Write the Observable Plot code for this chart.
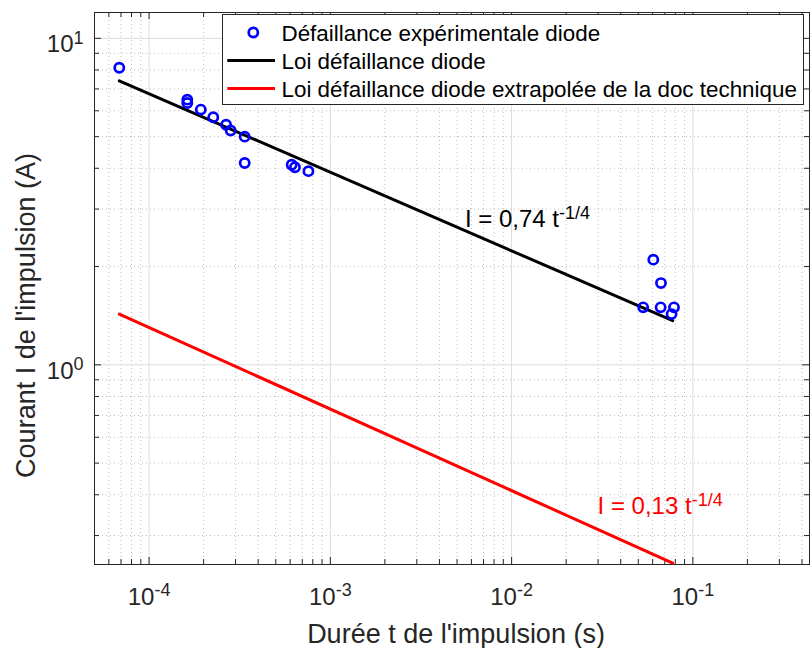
<!DOCTYPE html>
<html>
<head>
<meta charset="utf-8">
<script src="https://cdn.jsdelivr.net/npm/d3@7"></script>
<script src="https://cdn.jsdelivr.net/npm/@observablehq/plot@0.6"></script>
<style>
  html, body { margin: 0; padding: 0; background: white; }
  #chart svg { display: block; }
</style>
</head>
<body>
<div id="chart"></div>
<script>
// ---- Data ----
const expT = [6.85e-5, 1.625e-4, 1.625e-4, 1.93e-4, 2.26e-4, 2.66e-4, 2.82e-4, 3.37e-4, 3.37e-4, 6.12e-4, 6.38e-4, 7.57e-4, 0.0532, 0.0605, 0.0664, 0.0667, 0.0763, 0.0787];
const expI = [8.13, 6.49, 6.34, 6.05, 5.73, 5.44, 5.22, 5.00, 4.15, 4.10, 4.03, 3.92, 1.50, 2.10, 1.50, 1.78, 1.43, 1.50];

const lawT = [6.85e-5, 0.0774];
const lawI = [7.41, 1.366];

const docT = [6.85e-5, 0.0774];
const docI = [1.43, 0.247];

const annotT = [5.53e-3, 0.0298];
const annotI = [2.64, 0.350];
const annotText = ["I = 0,74 t^-1/4", "I = 0,13 t^-1/4"];
const annotColor = ["#000000", "#ff0000"];

const legendLabels = ["Défaillance expérimentale diode", "Loi défaillance diode", "Loi défaillance diode extrapolée de la doc technique"];
const legendKinds = ["dot", "line", "line"];
const legendColors = ["#0000ff", "#000000", "#ff0000"];

const xLabel = "Durée t de l'impulsion (s)";
const yLabel = "Courant I de l'impulsion (A)";

const xDomain = [5e-5, 0.44];
const yDomain = [0.2446, 12];
const xTicks = [1e-4, 1e-3, 1e-2, 1e-1];
const xTickLabels = ["10^-4", "10^-3", "10^-2", "10^-1"];
const xMinor = [6e-5, 7e-5, 8e-5, 9e-5, 2e-4, 3e-4, 4e-4, 5e-4, 6e-4, 7e-4, 8e-4, 9e-4, 2e-3, 3e-3, 4e-3, 5e-3, 6e-3, 7e-3, 8e-3, 9e-3, 2e-2, 3e-2, 4e-2, 5e-2, 6e-2, 7e-2, 8e-2, 9e-2, 0.2, 0.3, 0.4];
const yTicks = [1, 10];
const yTickLabels = ["10^0", "10^1"];
const yMinor = [0.3, 0.4, 0.5, 0.6, 0.7, 0.8, 0.9, 2, 3, 4, 5, 6, 7, 8, 9];

// ---- Layout ----
const W = 811, H = 648;
const mL = 94, mR = 2, mT = 12, mB = 84;
const FW = W - mL - mR, FH = H - mT - mB;
const axisColor = "#262626";
const majorLen = 7, minorLen = 5;
const font = "'Liberation Sans', Arial, Helvetica, sans-serif";

const exp = expT.map((t, i) => ({t, I: expI[i]}));
const law = lawT.map((t, i) => ({t, I: lawI[i]}));
const doc = docT.map((t, i) => ({t, I: docI[i]}));
const annots = annotT.map((t, i) => ({t, I: annotI[i], text: annotText[i], color: annotColor[i]}));

const chart = Plot.plot({
  width: W, height: H,
  marginLeft: mL, marginRight: mR, marginTop: mT, marginBottom: mB,
  style: {fontFamily: font, background: "white", color: axisColor, overflow: "visible"},
  x: {type: "log", domain: xDomain},
  y: {type: "log", domain: yDomain},
  marks: [
    // grid
    Plot.ruleX(xMinor, {x: d => d, stroke: "#bebebe", strokeDasharray: "1,3", strokeWidth: 1}),
    Plot.ruleY(yMinor, {y: d => d, stroke: "#bebebe", strokeDasharray: "1,3", strokeWidth: 1}),
    Plot.ruleX(xTicks, {x: d => d, stroke: "#dcdcdc", strokeWidth: 1}),
    Plot.ruleY(yTicks, {y: d => d, stroke: "#dcdcdc", strokeWidth: 1}),
    // inward ticks, four sides
    Plot.ruleX(xTicks, {x: d => d, stroke: axisColor, insetTop: FH - majorLen}),
    Plot.ruleX(xTicks, {x: d => d, stroke: axisColor, insetBottom: FH - majorLen}),
    Plot.ruleX(xMinor, {x: d => d, stroke: axisColor, insetTop: FH - minorLen}),
    Plot.ruleX(xMinor, {x: d => d, stroke: axisColor, insetBottom: FH - minorLen}),
    Plot.ruleY(yTicks, {y: d => d, stroke: axisColor, insetRight: FW - majorLen}),
    Plot.ruleY(yTicks, {y: d => d, stroke: axisColor, insetLeft: FW - majorLen}),
    Plot.ruleY(yMinor, {y: d => d, stroke: axisColor, insetRight: FW - minorLen}),
    Plot.ruleY(yMinor, {y: d => d, stroke: axisColor, insetLeft: FW - minorLen}),
    Plot.axisX({ticks: xTicks, tickFormat: d => xTickLabels[xTicks.indexOf(d)], tickSize: 0, tickPadding: 23, fontSize: 24, label: null}),
    Plot.axisY({ticks: yTicks, tickFormat: d => yTickLabels[yTicks.indexOf(d)], tickSize: 0, tickPadding: 11, fontSize: 24, dy: 6, label: null}),
    Plot.frame({stroke: axisColor}),
    // data
    Plot.line(law, {x: "t", y: "I", stroke: "#000000", strokeWidth: 3}),
    Plot.line(doc, {x: "t", y: "I", stroke: "#ff0000", strokeWidth: 3}),
    Plot.dot(exp, {x: "t", y: "I", r: 4.6, stroke: "#0000ff", strokeWidth: 2.7, fill: "none"}),
    Plot.text(annots, {x: "t", y: "I", text: "text", fill: "color", textAnchor: "start", lineAnchor: "bottom", fontSize: 24}),
    // axis titles
    Plot.text([xLabel], {text: d => d, frameAnchor: "bottom", textAnchor: "middle", dx: 4, dy: 78, lineAnchor: "bottom", fontSize: 27, fill: axisColor}),
    Plot.text([yLabel], {text: d => d, frameAnchor: "left", textAnchor: "middle", dx: -60, dy: 27, rotate: -90, lineAnchor: "bottom", fontSize: 27, fill: axisColor})
  ]
});

// superscripts: "a^b" -> a with raised b
const SVGNS = "http://www.w3.org/2000/svg";
chart.querySelectorAll("text").forEach(t => {
  const s = t.textContent;
  const k = s.indexOf("^");
  if (k < 0 || t.querySelector("tspan")) return;
  t.textContent = "";
  t.appendChild(document.createTextNode(s.slice(0, k)));
  const sp = document.createElementNS(SVGNS, "tspan");
  sp.setAttribute("dy", "-0.45em");
  sp.setAttribute("font-size", "0.75em");
  sp.textContent = s.slice(k + 1);
  t.appendChild(sp);
});

// legend (inside the axes, top right)
const lg = d3.select(chart).append("g")
  .attr("font-family", font).attr("font-size", 22.4).attr("text-anchor", "start");
const lx = 222.5, ly = 14.5, lw = 581, lh = 90, rowH = 28, row0 = 32.5;
lg.append("rect").attr("x", lx).attr("y", ly).attr("width", lw).attr("height", lh)
  .attr("fill", "white").attr("stroke", axisColor).attr("stroke-width", 1);
legendLabels.forEach((lab, i) => {
  const cy = row0 + i * rowH;
  if (legendKinds[i] === "dot") {
    lg.append("circle").attr("cx", 253.3).attr("cy", cy).attr("r", 4.6)
      .attr("fill", "none").attr("stroke", legendColors[i]).attr("stroke-width", 2.7);
  } else {
    lg.append("line").attr("x1", 227.3).attr("x2", 275).attr("y1", cy).attr("y2", cy)
      .attr("stroke", legendColors[i]).attr("stroke-width", 3);
  }
  lg.append("text").attr("x", 281.5).attr("y", cy).attr("dy", "0.36em")
    .attr("text-anchor", "start").attr("fill", "#000").text(lab);
});

document.getElementById("chart").appendChild(chart);
</script>
</body>
</html>
